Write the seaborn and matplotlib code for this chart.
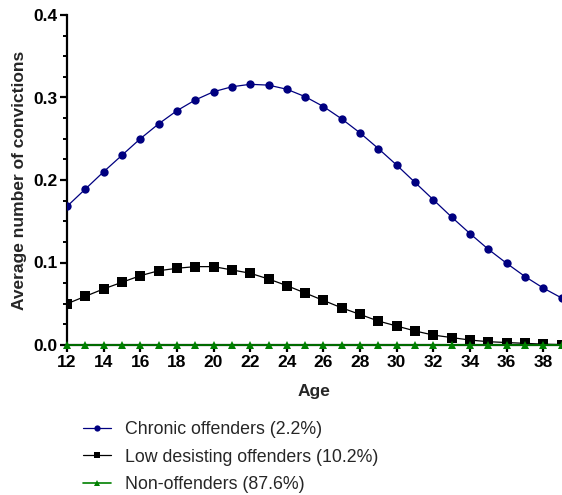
import numpy as np
import pandas as pd
import matplotlib
matplotlib.use("Agg")
import matplotlib.pyplot as plt
import seaborn as sns
from matplotlib.ticker import MultipleLocator

ages = list(range(12, 40))
chronic = [0.168, 0.189, 0.210, 0.230, 0.250, 0.268, 0.284, 0.297, 0.307, 0.313,
           0.316, 0.315, 0.310, 0.301, 0.289, 0.274, 0.257, 0.238, 0.218, 0.197,
           0.176, 0.155, 0.135, 0.116, 0.099, 0.083, 0.069, 0.057]
low_desisting = [0.050, 0.059, 0.068, 0.076, 0.084, 0.090, 0.093, 0.095, 0.095, 0.091,
                 0.087, 0.080, 0.072, 0.063, 0.054, 0.045, 0.037, 0.029, 0.023, 0.017,
                 0.012, 0.009, 0.006, 0.004, 0.003, 0.002, 0.001, 0.0005]
non_offenders = [0.0] * 28
labels = ["Chronic offenders (2.2%)", "Low desisting offenders (10.2%)", "Non-offenders (87.6%)"]

df = pd.concat([
    pd.DataFrame({"Age": ages, "value": chronic, "group": labels[0]}),
    pd.DataFrame({"Age": ages, "value": low_desisting, "group": labels[1]}),
    pd.DataFrame({"Age": ages, "value": non_offenders, "group": labels[2]}),
])

sns.set_theme(style="ticks")
plt.rcParams['font.family'] = ['Liberation Sans', 'DejaVu Sans']

fig = plt.figure(figsize=(5.62, 4.95), dpi=100)
ax = fig.add_axes([67/562, 1-345/495, 1-67/562, 330/495])

palette = {labels[0]: "#000080", labels[1]: "#000000", labels[2]: "#008000"}
markers = {labels[0]: "o", labels[1]: "s", labels[2]: "^"}
sizes_ms = {labels[0]: 6, labels[1]: 6.5, labels[2]: 6}

for lab in labels:
    sub = df[df["group"] == lab]
    is_zero = lab == labels[2]
    sns.lineplot(data=sub, x="Age", y="value", ax=ax, color=palette[lab],
                 marker=markers[lab], markersize=sizes_ms[lab], markeredgewidth=0,
                 linewidth=1.2 if is_zero else 0.9, label=lab, legend=False,
                 zorder=5 if is_zero else 3, clip_on=not is_zero)

ax.set_xlim(12, 39.02)
ax.set_ylim(0, 0.4)
ax.set_xticks(range(12, 40, 2))
ax.yaxis.set_major_locator(MultipleLocator(0.1))
ax.yaxis.set_minor_locator(MultipleLocator(0.025))
ax.set_yticklabels([f"{v:.1f}" for v in ax.get_yticks()])

for s in ["top", "right"]:
    ax.spines[s].set_visible(False)
for s in ["left", "bottom"]:
    ax.spines[s].set_linewidth(1.6)
    ax.spines[s].set_color("black")

ax.tick_params(axis="both", which="major", direction="out", length=5, width=1.6,
               labelsize=12.5, colors="black", pad=2)
ax.tick_params(axis="y", which="minor", direction="out", length=3, width=1.4, colors="black")
for t in ax.get_xticklabels() + ax.get_yticklabels():
    t.set_fontweight("bold")

ax.set_xlabel("Age", fontsize=12.5, fontweight="bold", labelpad=10)
ax.set_ylabel("Average number of convictions", fontsize=12.5, fontweight="bold", labelpad=4)
ax.grid(False)

handles = ax.get_lines()[:3]
fig.legend(handles, labels, loc="center left", bbox_to_anchor=(83/562, 1-457/495),
           frameon=False, fontsize=12.8, handlelength=1.55, handletextpad=0.8,
           labelspacing=0.6, borderpad=0, borderaxespad=0, markerscale=0.75)

fig.savefig("out.png", dpi=100)
